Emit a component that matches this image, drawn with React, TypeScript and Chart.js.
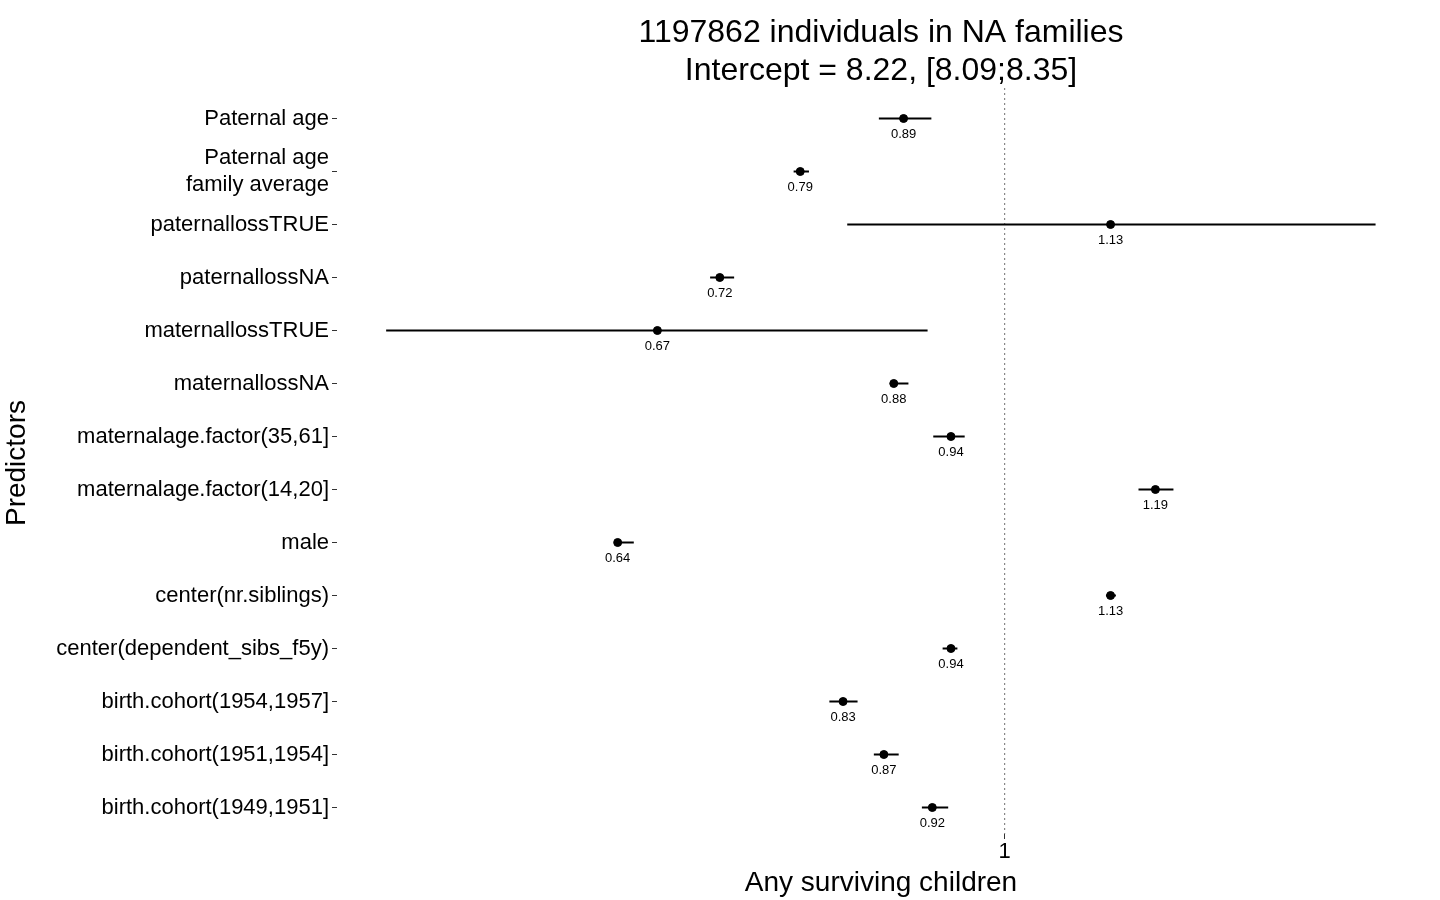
import React, { useEffect, useRef } from 'react';
import { Chart, registerables } from 'chart.js';

Chart.register(...registerables);

const predictors: (string | string[])[] = [
  'Paternal age',
  ['Paternal age', 'family average'],
  'paternallossTRUE',
  'paternallossNA',
  'maternallossTRUE',
  'maternallossNA',
  'maternalage.factor(35,61]',
  'maternalage.factor(14,20]',
  'male',
  'center(nr.siblings)',
  'center(dependent_sibs_f5y)',
  'birth.cohort(1954,1957]',
  'birth.cohort(1951,1954]',
  'birth.cohort(1949,1951]',
];
const estimates = [0.89, 0.79, 1.13, 0.72, 0.67, 0.88, 0.94, 1.19, 0.64, 1.13, 0.94, 0.83, 0.87, 0.92];
const lower = [0.865, 0.784, 0.834, 0.712, 0.49, 0.876, 0.921, 1.167, 0.639, 1.124, 0.931, 0.817, 0.86, 0.909];
const upper = [0.919, 0.798, 1.534, 0.732, 0.915, 0.895, 0.955, 1.215, 0.652, 1.137, 0.947, 0.844, 0.885, 0.937];

const FONT = '"Liberation Sans", Arial, sans-serif';

const forestPlugin = {
  id: 'forest',
  beforeDatasetsDraw(chart: any) {
    const { ctx, chartArea, scales } = chart;
    const x = scales.x, y = scales.y;
    ctx.save();
    // reference line at 1
    ctx.strokeStyle = '#888';
    ctx.lineWidth = 1.2;
    ctx.setLineDash([2, 3]);
    const x1 = x.getPixelForValue(1);
    ctx.beginPath();
    ctx.moveTo(x1, chartArea.top - 4);
    ctx.lineTo(x1, chartArea.bottom);
    ctx.stroke();
    ctx.setLineDash([]);
    ctx.strokeStyle = '#000';
    ctx.lineWidth = 2;
    ctx.fillStyle = '#000';
    ctx.font = `13px ${FONT}`;
    ctx.textAlign = 'center';
    ctx.textBaseline = 'top';
    estimates.forEach((v, i) => {
      const py = y.getPixelForValue(i);
      ctx.beginPath();
      ctx.moveTo(x.getPixelForValue(lower[i]), py);
      ctx.lineTo(x.getPixelForValue(upper[i]), py);
      ctx.stroke();
      ctx.fillText(v.toFixed(2), x.getPixelForValue(v), py + 9);
    });
    // title
    ctx.font = `32px ${FONT}`;
    ctx.textBaseline = 'middle';
    const cx = (chartArea.left + chartArea.right) / 2;
    ctx.fillText('1197862 individuals in NA families', cx, 33);
    ctx.fillText('Intercept = 8.22, [8.09;8.35]', cx, 71);
    ctx.restore();
  },
};

const App: React.FC = () => {
  const canvasRef = useRef<HTMLCanvasElement | null>(null);

  useEffect(() => {
    if (!canvasRef.current) return;
    const chart = new Chart(canvasRef.current, {
      type: 'scatter',
      data: {
        labels: predictors as any,
        datasets: [
          {
            data: estimates.map((v, i) => ({ x: v, y: i })) as any,
            backgroundColor: '#000',
            borderColor: '#000',
            pointRadius: 4,
          },
        ],
      },
      options: {
        animation: false,
        responsive: false,
        layout: { padding: { top: 92, right: 15, left: 0, bottom: 0 } },
        plugins: { legend: { display: false }, tooltip: { enabled: false } },
        scales: {
          x: {
            type: 'logarithmic',
            min: 0.463,
            max: 1.624,
            afterFit: (s: any) => { s.height = 66; },
            afterBuildTicks: (s: any) => { s.ticks = [{ value: 1 }]; },
            border: { display: false },
            grid: { drawOnChartArea: false, tickLength: 5, tickColor: '#333' },
            ticks: { color: '#000', font: { size: 22, family: FONT }, padding: 0, callback: () => '1' },
            title: { display: true, text: 'Any surviving children', color: '#000', font: { size: 28, family: FONT }, padding: 0 },
          },
          y: {
            type: 'category',
            offset: true,
            afterFit: (s: any) => { s.width = 337; },
            border: { display: false },
            grid: { drawOnChartArea: false, tickLength: 5, tickColor: '#333', offset: false },
            ticks: { color: '#000', font: { size: 22, family: FONT }, padding: 3, autoSkip: false },
            title: { display: true, text: 'Predictors', color: '#000', font: { size: 28, family: FONT }, padding: 0 },
          },
        },
      },
      plugins: [forestPlugin],
    });
    return () => chart.destroy();
  }, []);

  return (
    <div style={{ position: 'fixed', left: 0, top: 0, width: 1440, height: 900, background: '#fff' }}>
      <canvas ref={canvasRef} width={1440} height={900} />
    </div>
  );
};

export default App;
